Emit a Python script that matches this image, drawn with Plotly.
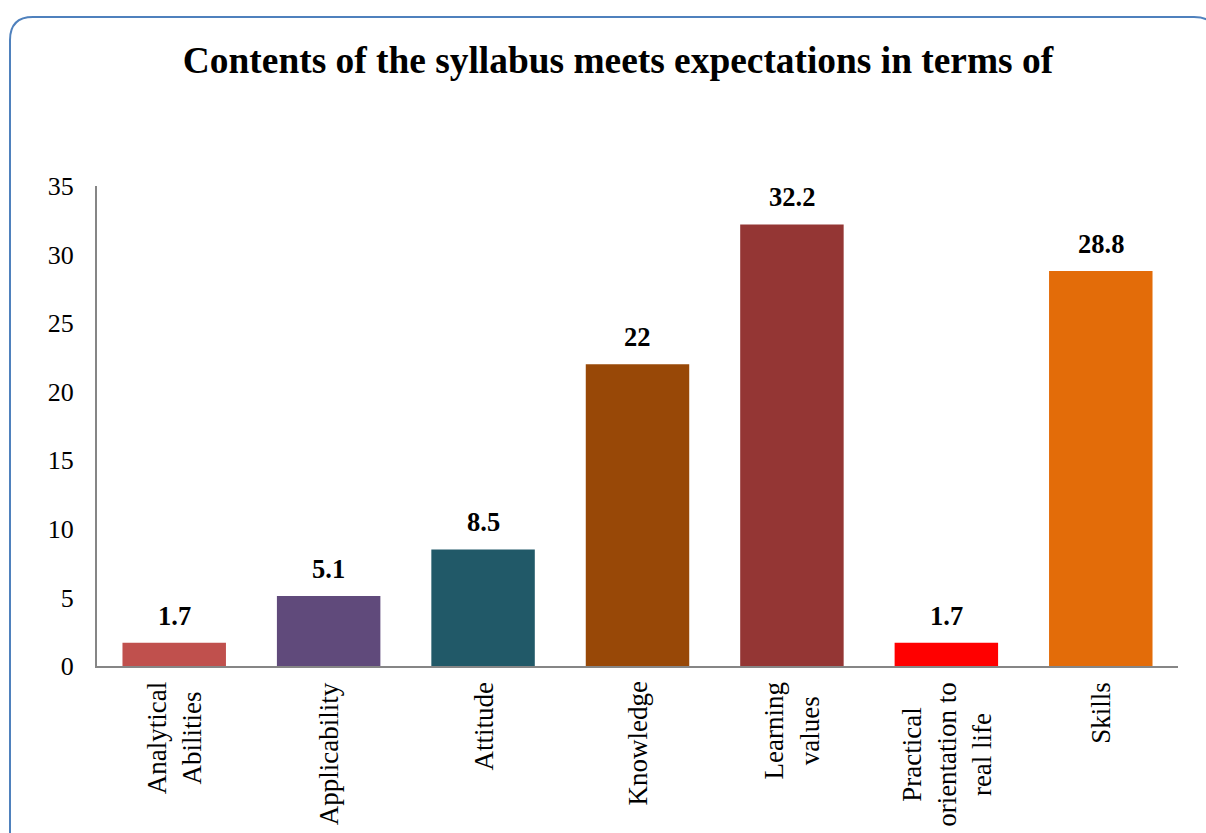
import plotly.graph_objects as go

categories = ["Analytical Abilities", "Applicability", "Attitude", "Knowledge",
              "Learning values", "Practical orientation to real life", "Skills"]
category_labels = ["Analytical<br>Abilities", "Applicability", "Attitude", "Knowledge",
                   "Learning<br>values", "Practical<br>orientation to<br>real life", "Skills"]
values = [1.7, 5.1, 8.5, 22, 32.2, 1.7, 28.8]
labels = ["1.7", "5.1", "8.5", "22", "32.2", "1.7", "28.8"]
colors = ["#C0504D", "#604A7B", "#215968", "#984807", "#943634", "#FF0000", "#E36C09"]
y_ticks = [0, 5, 10, 15, 20, 25, 30, 35]

W, H = 1206, 833
L, R, T, B = 97, 28, 186, 167
pw, ph = W - L - R, H - T - B

FONT = "Liberation Serif, Times New Roman, serif"

fig = go.Figure()
fig.add_trace(go.Bar(x=categories, y=values, marker=dict(color=colors, line=dict(width=0)),
                     showlegend=False, hoverinfo="skip"))

for c, v, t in zip(categories, values, labels):
    fig.add_annotation(x=c, y=v, text="<b>%s</b>" % t, showarrow=False,
                       yanchor="bottom", yshift=10,
                       font=dict(family=FONT, size=26.5, color="black"))

for c, t in zip(categories, category_labels):
    fig.add_annotation(x=c, y=0, text=t, showarrow=False, textangle=-90,
                       xanchor="center", yanchor="top", yshift=-14, align="center",
                       font=dict(family=FONT, size=27, color="black"))

def px(x):
    return (x - L) / pw

def py(y):
    return (H - B - y) / ph

r = 23
left, top, right, bottom = 10, 17, 1217, 900
path = ("M %f,%f L %f,%f Q %f,%f %f,%f L %f,%f Q %f,%f %f,%f L %f,%f" % (
    px(left), py(bottom), px(left), py(top + r),
    px(left), py(top), px(left + r), py(top),
    px(right - r), py(top),
    px(right), py(top), px(right), py(top + r),
    px(right), py(bottom)))
fig.add_shape(type="path", path=path, xref="paper", yref="paper",
              line=dict(color="#4F81BD", width=2), layer="above")

fig.update_layout(
    width=W, height=H,
    margin=dict(l=L, r=R, t=T, b=B),
    paper_bgcolor="white", plot_bgcolor="white",
    bargap=0.33,
    title=dict(text="<b>Contents of the syllabus meets expectations in terms of</b>",
               x=618 / W, xanchor="center", xref="container",
               y=1 - 60 / H, yanchor="middle", yref="container",
               font=dict(family=FONT, size=37.4, color="black")),
    font=dict(family=FONT, size=25, color="black"),
)
fig.update_xaxes(showline=True, linecolor="#868686", linewidth=2, showgrid=False,
                 ticks="", showticklabels=False)
fig.update_yaxes(range=[0, 35], tickvals=y_ticks, showline=True, linecolor="#868686",
                 linewidth=2, showgrid=False, zeroline=False, ticks="",
                 ticklabelstandoff=16,
                 tickfont=dict(family=FONT, size=26, color="black"))

fig.write_html("out.html", config={"displayModeBar": False},
               post_script="document.body.style.margin='0';document.body.style.overflow='hidden';")
